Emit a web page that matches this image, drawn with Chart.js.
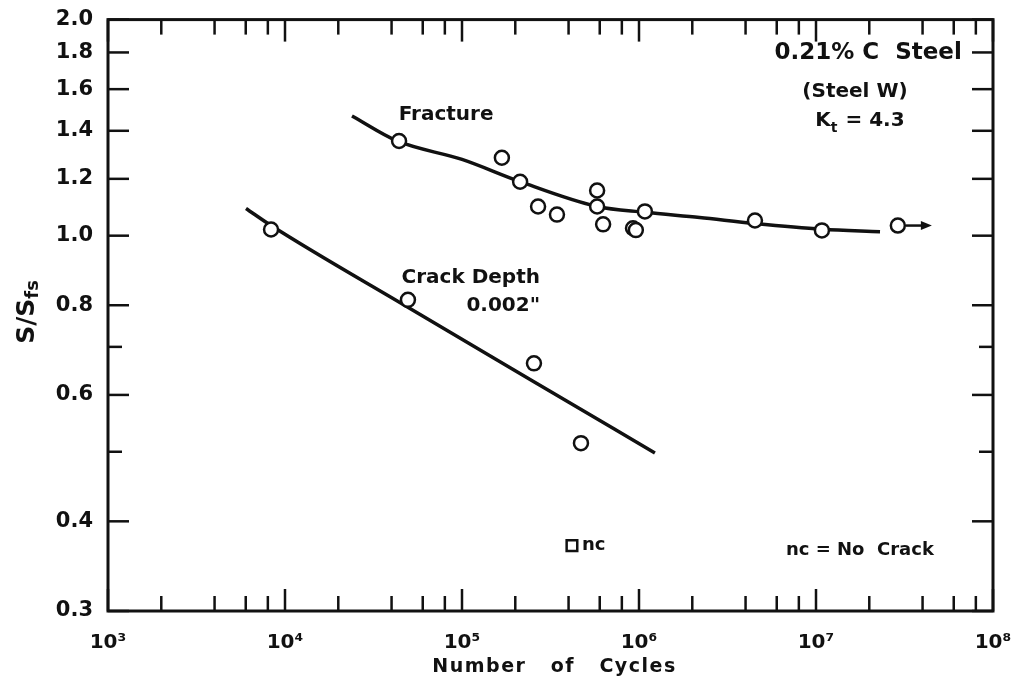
<!DOCTYPE html>
<html>
<head>
<meta charset="utf-8">
<script src="https://cdn.jsdelivr.net/npm/chart.js@4.4.1/dist/chart.umd.min.js"></script>
<style>
  body { margin: 0; background: #fff; }
  #wrap { width: 1028px; height: 677px; }
</style>
</head>
<body>
<div id="wrap"><canvas id="snChart"></canvas></div>
<script>
// S/Sfs against number of cycles, 0.21% C steel (Steel W), Kt = 4.3
const fractureCycles = [4.41e4, 1.68e5, 2.13e5, 2.69e5, 3.44e5, 5.8e5, 5.8e5, 6.27e5, 9.25e5, 9.6e5, 1.08e6, 4.52e6, 1.08e7, 2.9e7];
const fractureStress = [1.355, 1.284, 1.189, 1.098, 1.070, 1.156, 1.098, 1.037, 1.024, 1.018, 1.081, 1.050, 1.017, 1.033];

const crackCycles = [8.34e3, 4.95e4, 2.55e5, 4.7e5];
const crackStress = [1.020, 0.814, 0.664, 0.514];

const noCrackCycles = [4.18e5];
const noCrackStress = [0.370];

// faired curves through the test points
const fractureCurveCycles = [2.39e4, 4.3e4, 1e5, 2.13e5, 5.8e5, 1.08e6, 2.2e6, 4.5e6, 1.08e7, 2.3e7];
const fractureCurveStress = [1.468, 1.355, 1.277, 1.189, 1.098, 1.078, 1.060, 1.040, 1.021, 1.013];
const crackCurveCycles = [6.02e3, 8.34e3, 4.89e4, 2.52e5, 1.23e6];
const crackCurveStress = [1.091, 1.033, 0.796, 0.627, 0.498];

// axis ticks
const xDecades = [1e3, 1e4, 1e5, 1e6, 1e7, 1e8];
const xMinorSteps = [2, 4, 6, 8];
const yTickLabels = [0.3, 0.4, 0.6, 0.8, 1.0, 1.2, 1.4, 1.6, 1.8, 2.0];
const yPlainTicks = [0.5, 0.7];

const FONT = '"DejaVu Sans", "Liberation Sans", sans-serif';
const INK = '#111';

const sup = { 3: '\u00b3', 4: '\u2074', 5: '\u2075', 6: '\u2076', 7: '\u2077', 8: '\u2078' };

function pairs(xs, ys) {
    return xs.map((x, i) => ({ x: x, y: ys[i] }));
}

// text placed in data coordinates
const notes = [
    { text: 'Fracture', x: 8.13e4, y: 1.472, size: 20 },
    { text: 'Crack Depth', x: 1.12e5, y: 0.873, size: 20 },
    { text: '0.002"', x: 1.71e5, y: 0.798, size: 20 },
    { text: 'nc = No  Crack', x: 1.77e7, y: 0.364, size: 18 },
    { text: '0.21% C  Steel', x: 1.97e7, y: 1.796, size: 23 },
    { text: '(Steel W)', x: 1.66e7, y: 1.585, size: 20 }
];

const decorations = {
    id: 'decorations',
    afterDraw(chart) {
        const ctx = chart.ctx;
        const a = chart.chartArea;
        const x = chart.scales.x;
        const y = chart.scales.y;

        ctx.save();
        ctx.strokeStyle = INK;
        ctx.fillStyle = INK;
        ctx.lineCap = 'butt';
        ctx.lineWidth = 2.5;

        function line(x1, y1, x2, y2) {
            ctx.beginPath();
            ctx.moveTo(x1, y1);
            ctx.lineTo(x2, y2);
            ctx.stroke();
        }

        // inward ticks on all four sides
        xDecades.forEach((d, i) => {
            const px = x.getPixelForValue(d);
            line(px, a.bottom, px, a.bottom - 22);
            line(px, a.top, px, a.top + 22);
            if (i < xDecades.length - 1) {
                xMinorSteps.forEach(m => {
                    const p = x.getPixelForValue(d * m);
                    line(p, a.bottom, p, a.bottom - 15);
                    line(p, a.top, p, a.top + 15);
                });
            }
        });
        yTickLabels.forEach(v => {
            const py = y.getPixelForValue(v);
            line(a.left, py, a.left + 21, py);
            line(a.right, py, a.right - 21, py);
        });
        yPlainTicks.forEach(v => {
            const py = y.getPixelForValue(v);
            line(a.left, py, a.left + 14, py);
            line(a.right, py, a.right - 14, py);
        });

        // frame
        ctx.lineWidth = 3;
        ctx.strokeRect(a.left, a.top, a.right - a.left, a.bottom - a.top);

        // run-out arrow on the last fracture point
        const last = fractureCycles.length - 1;
        const ax = x.getPixelForValue(fractureCycles[last]);
        const ay = y.getPixelForValue(fractureStress[last]);
        ctx.lineWidth = 2.5;
        line(ax + 8, ay, ax + 26, ay);
        ctx.beginPath();
        ctx.moveTo(ax + 34, ay);
        ctx.lineTo(ax + 23, ay - 4.5);
        ctx.lineTo(ax + 23, ay + 4.5);
        ctx.closePath();
        ctx.fill();

        // notes
        ctx.textAlign = 'center';
        ctx.textBaseline = 'middle';
        notes.forEach(n => {
            ctx.font = 'bold ' + n.size + 'px ' + FONT;
            ctx.fillText(n.text, x.getPixelForValue(n.x), y.getPixelForValue(n.y));
        });

        // "nc" beside the square
        ctx.textAlign = 'left';
        ctx.font = 'bold 18px ' + FONT;
        ctx.fillText('nc', x.getPixelForValue(noCrackCycles[0]) + 10, y.getPixelForValue(noCrackStress[0]));

        // Kt = 4.3
        const kx = x.getPixelForValue(1.77e7);
        const ky = y.getPixelForValue(1.444);
        ctx.font = 'bold 20px ' + FONT;
        const kW = ctx.measureText('K').width;
        const restW = ctx.measureText('= 4.3').width;
        ctx.font = 'bold 14px ' + FONT;
        const tW = ctx.measureText('t').width;
        let sx = kx - (kW + tW + 8 + restW) / 2;
        ctx.font = 'bold 20px ' + FONT;
        ctx.fillText('K', sx, ky);
        ctx.font = 'bold 14px ' + FONT;
        ctx.fillText('t', sx + kW, ky + 7);
        ctx.font = 'bold 20px ' + FONT;
        ctx.fillText('= 4.3', sx + kW + tW + 8, ky);

        // x axis title
        ctx.textAlign = 'center';
        ctx.font = 'bold 19px ' + FONT;
        ctx.letterSpacing = '1.5px';
        ctx.fillText('Number   of   Cycles', (a.left + a.right) / 2 + 4, 667);
        ctx.letterSpacing = '0px';

        // y axis title S/Sfs, rotated
        ctx.translate(27, 312);
        ctx.rotate(-Math.PI / 2);
        ctx.textAlign = 'left';
        ctx.font = 'bold 25px ' + FONT;
        const w1 = ctx.measureText('S/S').width;
        ctx.font = 'bold 18px ' + FONT;
        const w2 = ctx.measureText('fs').width;
        const start = -(w1 + w2) / 2;
        ctx.font = 'bold 25px ' + FONT;
        ctx.fillText('S/S', start, 0);
        ctx.font = 'bold 18px ' + FONT;
        ctx.fillText('fs', start + w1, 6);

        ctx.restore();
    }
};

const pointStyle = {
    showLine: false,
    pointRadius: 7,
    pointHoverRadius: 7,
    pointBorderWidth: 2.5,
    pointBorderColor: INK,
    pointBackgroundColor: '#fff',
    order: 1
};

const curveStyle = {
    showLine: true,
    borderColor: INK,
    borderWidth: 3.5,
    pointRadius: 0,
    cubicInterpolationMode: 'monotone',
    fill: false,
    order: 2
};

new Chart(document.getElementById('snChart'), {
    type: 'scatter',
    data: {
        datasets: [
            Object.assign({ label: 'Fracture curve', data: pairs(fractureCurveCycles, fractureCurveStress) }, curveStyle),
            Object.assign({ label: 'Crack depth curve', data: pairs(crackCurveCycles, crackCurveStress) }, curveStyle),
            Object.assign({ label: 'Fracture', data: pairs(fractureCycles, fractureStress) }, pointStyle),
            Object.assign({ label: 'Crack depth 0.002"', data: pairs(crackCycles, crackStress) }, pointStyle),
            Object.assign({ label: 'No crack', data: pairs(noCrackCycles, noCrackStress) }, pointStyle,
                { pointStyle: 'rect', pointRadius: 7.5, pointHoverRadius: 7.5, pointBorderWidth: 2.5 })
        ]
    },
    options: {
        responsive: true,
        maintainAspectRatio: false,
        animation: false,
        events: [],
        layout: { padding: { top: 16, right: 35, left: 0, bottom: 0 } },
        plugins: {
            legend: { display: false },
            tooltip: { enabled: false }
        },
        scales: {
            x: {
                type: 'logarithmic',
                min: 1e3,
                max: 1e8,
                grid: { display: false },
                border: { display: false },
                afterBuildTicks: s => { s.ticks = xDecades.map(v => ({ value: v })); },
                afterFit: s => { s.height = 66; },
                ticks: {
                    autoSkip: false,
                    maxRotation: 0,
                    padding: 12,
                    color: INK,
                    font: { family: FONT, size: 20, weight: 'bold' },
                    callback: v => '10' + sup[Math.round(Math.log10(v))]
                }
            },
            y: {
                type: 'logarithmic',
                min: 0.3,
                max: 2.0,
                grid: { display: false },
                border: { display: false },
                afterBuildTicks: s => { s.ticks = yTickLabels.map(v => ({ value: v })); },
                afterFit: s => { s.width = 108; },
                ticks: {
                    autoSkip: false,
                    padding: 7,
                    color: INK,
                    font: { family: FONT, size: 21, weight: 'bold' },
                    callback: v => Number(v).toFixed(1)
                }
            }
        }
    },
    plugins: [decorations]
});
</script>
</body>
</html>
